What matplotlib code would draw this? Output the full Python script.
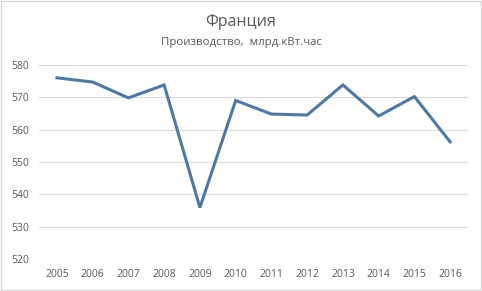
import matplotlib.pyplot as plt

# Data
years = ["2005", "2006", "2007", "2008", "2009", "2010",
         "2011", "2012", "2013", "2014", "2015", "2016"]
production = [576.0, 574.7, 569.8, 573.8, 535.9, 569.0,
              564.8, 564.5, 573.8, 564.2, 570.2, 556.2]
yticks = [520, 530, 540, 550, 560, 570, 580]

plt.rcParams["font.family"] = ["Open Sans", "DejaVu Sans"]
text_color = "#595959"

fig = plt.figure(figsize=(4.82, 2.91), dpi=100)
ax = fig.add_axes([0.081, 0.11, 0.89, 0.667])

x = list(range(len(years)))
ax.plot(x, production, color="#4E79A3", linewidth=2.2, solid_joinstyle="miter")

ax.set_xlim(-0.5, len(years) - 0.5)
ax.set_ylim(520, 580)
ax.set_yticks(yticks)
ax.set_xticks(x)
ax.set_xticklabels(years)
ax.grid(axis="y", color="#D9D9D9", linewidth=0.8)
ax.set_axisbelow(True)
for s in ["top", "right", "left", "bottom"]:
    ax.spines[s].set_visible(False)
ax.tick_params(length=0, labelsize=7.5, colors=text_color, pad=7)

fig.text(0.5, 0.925, "Франция", ha="center", va="center",
         fontsize=11.5, color=text_color)
fig.text(0.5, 0.855, "Производство,  млрд.кВт.час", ha="center", va="center",
         fontsize=8.2, color=text_color)

# light frame around the chart
fig.patches.append(plt.Rectangle((0.002, 0.003), 0.995, 0.994, transform=fig.transFigure,
                                 fill=False, edgecolor="#D9D9D9", linewidth=1))

fig.savefig("out.png", dpi=100)
